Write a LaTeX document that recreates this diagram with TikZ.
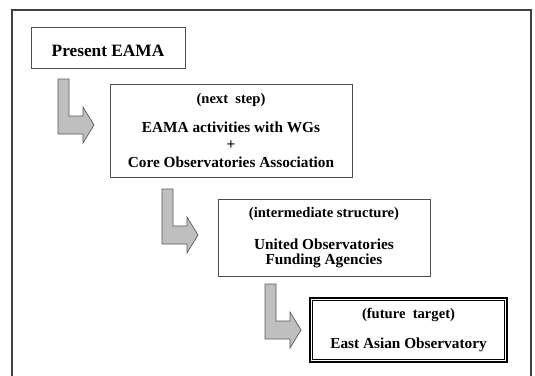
\documentclass[tikz,border=0pt]{standalone}
\usepackage{fontspec}
\setmainfont{Liberation Serif}
\usepackage{tikz}

\newcommand{\tagfont}{\fontsize{14.6}{15}\selectfont}
\tikzset{
	stage/.style={draw=black!70, line width=0.9pt, fill=white, align=center, inner sep=0pt,
		font=\bfseries\fontsize{15.3}{15}\selectfont},
	bentarrow/.pic={
		\draw[fill=gray!50, draw=black!65, line width=0.7pt] (0,0) -- (11,0) -- (11,37) -- (25,37) -- (25,28)
			-- (36,46) -- (25,64) -- (25,55) -- (0,55) -- cycle;
	}
}

\begin{document}
\begin{tikzpicture}[x=1pt, y=-1pt]
				% Frame, stages and arrows:
				\useasboundingbox (0,0) rectangle (535,375);
				\draw[black!75, line width=1.4pt] (12,376) -- (12,10) -- (531,10) -- (531,376);
				\node[stage, minimum width=154pt, minimum height=41pt, text height=18pt,
					font=\bfseries\fontsize{17.3}{18}\selectfont] (present) at (108,47.5) {Present EAMA};
				\node[stage, minimum width=242pt, minimum height=93pt] (nextstep) at (231,130.5)
					{{\tagfont (next\ \ step)}\\[14pt] EAMA activities with WGs\\[2.5pt] +\\[2.5pt] Core Observatories Association};
				\node[stage, minimum width=212pt, minimum height=77pt] (interm) at (324,237.5)
					{{\tagfont (intermediate structure)}\\[17pt] United Observatories\\ Funding Agencies};
				\node[stage, draw=black, line width=2pt, minimum width=197pt, minimum height=64pt] (target) at (408.5,330)
					{{\tagfont (future\ \ target)}\\[15pt] East Asian Observatory};
				\draw[black, line width=0.9pt] ([shift={(3.8,3.8)}]target.north west) rectangle ([shift={(-3.8,-3.8)}]target.south east);
				\pic at (58,79) {bentarrow};
				\pic at (162,189) {bentarrow};
				\pic at (265,284) {bentarrow};
\end{tikzpicture}
\end{document}
